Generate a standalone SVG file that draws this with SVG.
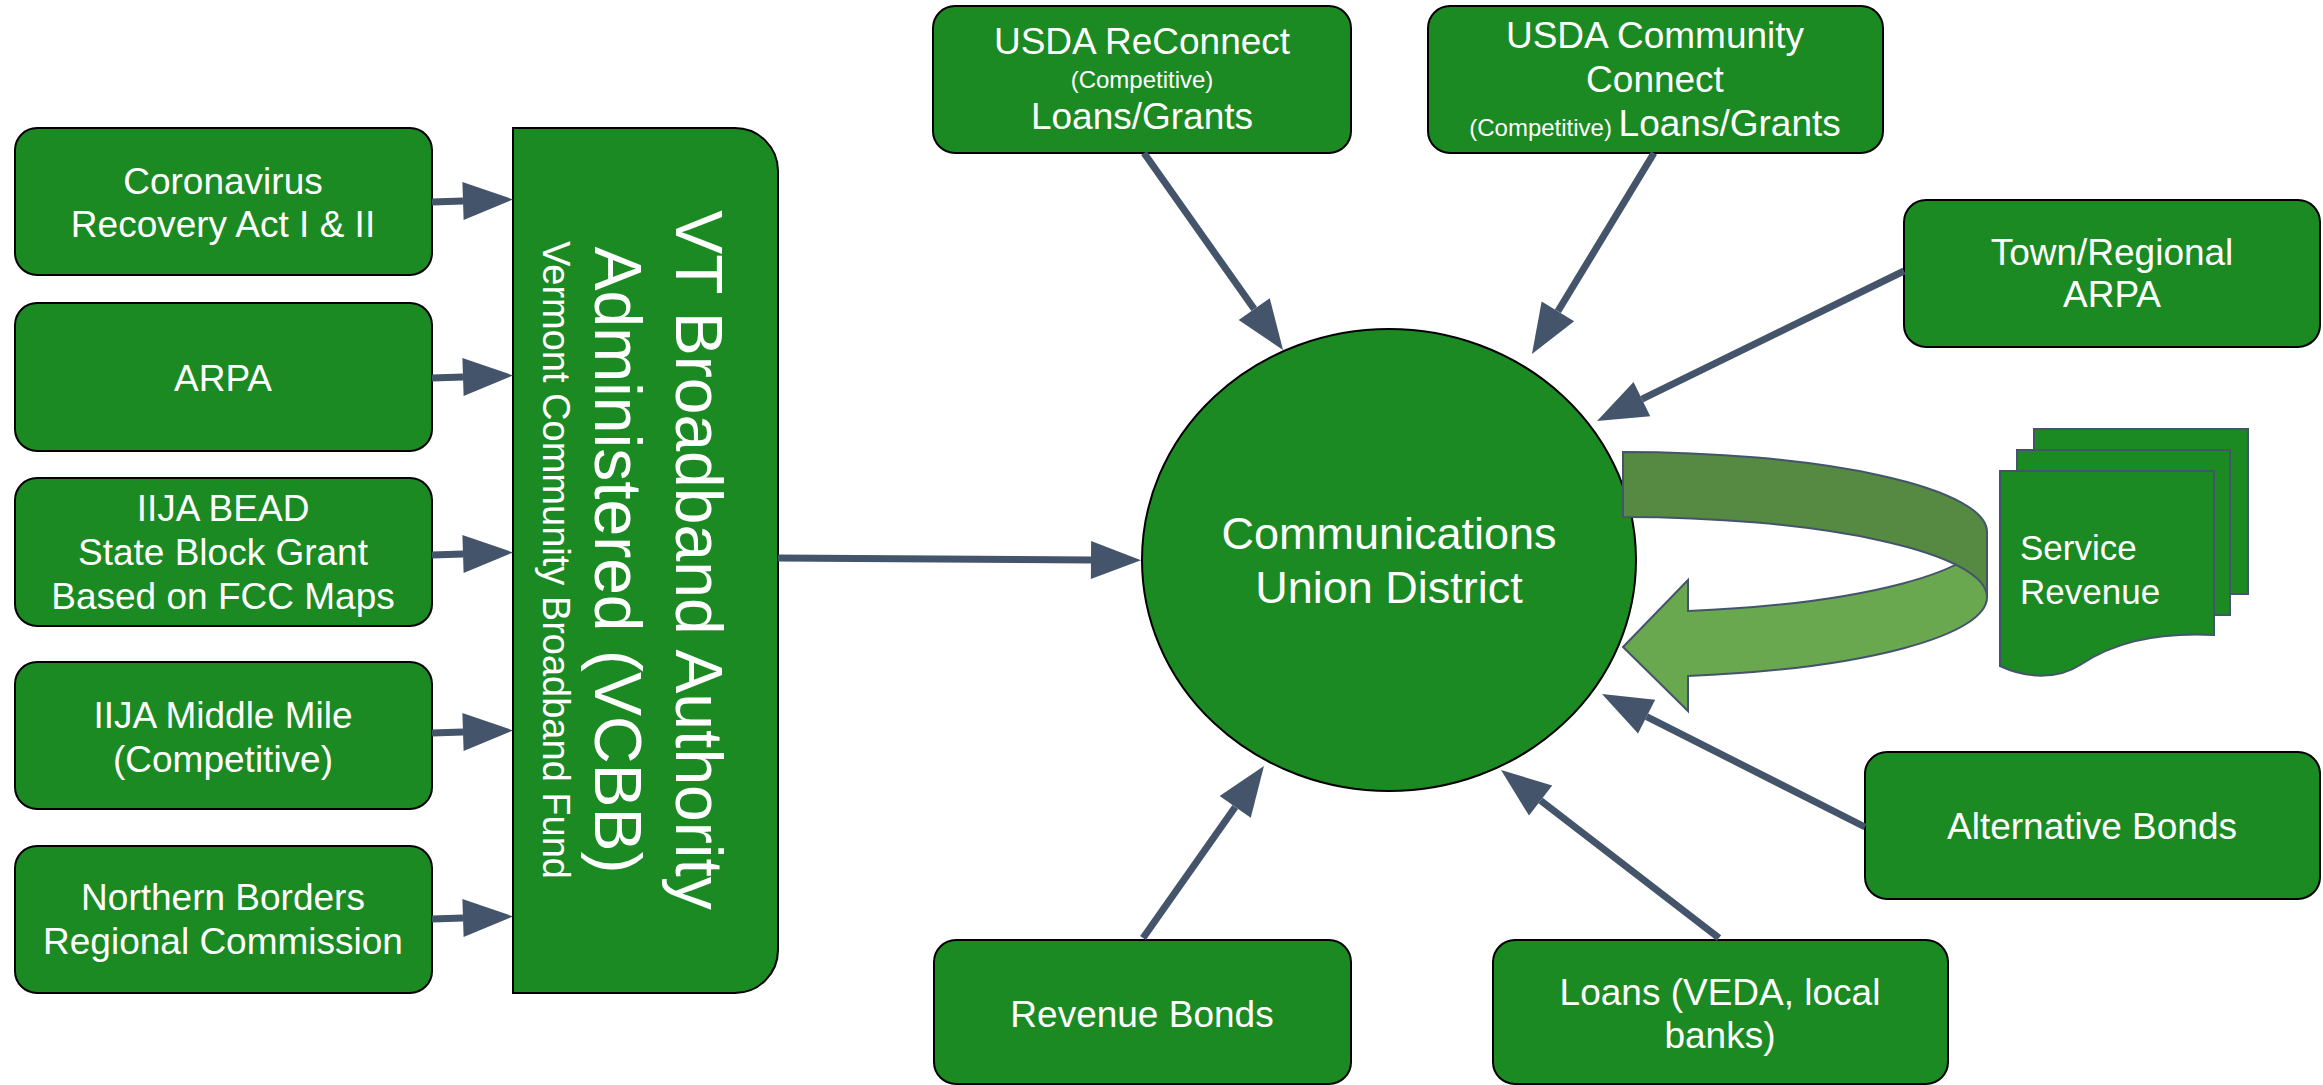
<svg xmlns="http://www.w3.org/2000/svg" width="2323" height="1085" viewBox="0 0 2323 1085">
<style>
.box{fill:#1b8a23;stroke:#000;stroke-width:2}
.t{fill:#fff;font-family:"Liberation Sans",Arial,sans-serif;font-size:37px;text-anchor:middle}
.s{font-size:24px}
.c{fill:none;stroke:#44546a;stroke-width:7;marker-end:url(#ah)}
.pg{fill:#1b8a23;stroke:#44546a;stroke-width:2}
</style>
<defs>
<marker id="ah" markerUnits="userSpaceOnUse" markerWidth="52" markerHeight="40" refX="0" refY="19" orient="auto" overflow="visible">
<path d="M0,0 L50,19 L0,38 Z" fill="#44546a"/>
</marker>
</defs>
<rect width="2323" height="1085" fill="#fff"/>

<g id="coronavirus"><rect class="box" x="15" y="128" width="417" height="147" rx="22"/>
<text class="t" x="223" y="194">Coronavirus</text><text class="t" x="223" y="237">Recovery Act I &amp; II</text></g>
<g id="arpa"><rect class="box" x="15" y="303" width="417" height="148" rx="22"/>
<text class="t" x="223" y="391">ARPA</text></g>
<g id="iija-bead"><rect class="box" x="15" y="478" width="417" height="148" rx="22"/>
<text class="t" x="223" y="521">IIJA BEAD</text><text class="t" x="223" y="565">State Block Grant</text><text class="t" x="223" y="609">Based on FCC Maps</text></g>
<g id="iija-middle"><rect class="box" x="15" y="662" width="417" height="147" rx="22"/>
<text class="t" x="223" y="728">IIJA Middle Mile</text><text class="t" x="223" y="772">(Competitive)</text></g>
<g id="northern"><rect class="box" x="15" y="846" width="417" height="147" rx="22"/>
<text class="t" x="223" y="910">Northern Borders</text><text class="t" x="223" y="954">Regional Commission</text></g>

<g id="vcbb"><path class="box" d="M513,128 H735 A43,43 0 0 1 778,171 V950 A43,43 0 0 1 735,993 H513 Z"/>
<text class="t" style="font-size:66px" transform="translate(676,560) rotate(90)">VT Broadband Authority</text>
<text class="t" style="font-size:66px" transform="translate(595,560) rotate(90)">Administered (VCBB)</text>
<text class="t" style="font-size:38px" transform="translate(543,560) rotate(90)">Vermont Community Broadband Fund</text></g>

<g id="reconnect"><rect class="box" x="933" y="6" width="418" height="147" rx="22"/>
<text class="t" x="1142" y="54">USDA ReConnect</text><text class="t s" x="1142" y="88">(Competitive)</text><text class="t" x="1142" y="129">Loans/Grants</text></g>
<g id="community"><rect class="box" x="1428" y="6" width="455" height="147" rx="22"/>
<text class="t" x="1655" y="48">USDA Community</text><text class="t" x="1655" y="92">Connect</text><text class="t" x="1655" y="136"><tspan class="s">(Competitive) </tspan>Loans/Grants</text></g>
<g id="town"><rect class="box" x="1904" y="200" width="416" height="147" rx="22"/>
<text class="t" x="2112" y="265">Town/Regional</text><text class="t" x="2112" y="307">ARPA</text></g>
<g id="alt-bonds"><rect class="box" x="1865" y="752" width="455" height="147" rx="22"/>
<text class="t" x="2092" y="839">Alternative Bonds</text></g>
<g id="revenue-bonds"><rect class="box" x="934" y="940" width="417" height="144" rx="22"/>
<text class="t" x="1142" y="1027">Revenue Bonds</text></g>
<g id="loans"><rect class="box" x="1493" y="940" width="455" height="144" rx="22"/>
<text class="t" x="1720" y="1005">Loans (VEDA, local</text><text class="t" x="1720" y="1048">banks)</text></g>

<g id="cud"><ellipse class="box" cx="1389" cy="560" rx="247" ry="231"/>
<text class="t" style="font-size:45px" x="1389" y="549">Communications</text><text class="t" style="font-size:45px" x="1389" y="603">Union District</text></g>

<g id="revenue-loop">
<path d="M1688,611 A364,80 0 0 0 1987,532 L1987,597 A364,80 0 0 1 1688,676 L1688,711 L1623,647 L1688,580 Z" fill="#6aa84f" stroke="#44546a" stroke-width="2"/>
<path d="M1623,452 A364,80 0 0 1 1987,532 L1987,597 A364,80 0 0 0 1623,517 Z" fill="#568a42" stroke="#44546a" stroke-width="2"/>
</g>

<g id="service-revenue">
<rect class="pg" x="2034" y="429" width="214" height="165"/>
<rect class="pg" x="2017" y="450" width="213" height="165"/>
<path class="pg" d="M2000,471 H2214 V635 C2150,632 2110,645 2080,665 C2060,678 2030,680 2000,666 Z"/>
<text class="t" style="font-size:35px;text-anchor:start" x="2020" y="560">Service</text>
<text class="t" style="font-size:35px;text-anchor:start" x="2020" y="604">Revenue</text>
</g>

<g id="connectors">
<path class="c" d="M432,202 L463,201"/>
<path class="c" d="M432,378 L463,377"/>
<path class="c" d="M432,555 L463,554"/>
<path class="c" d="M432,733 L463,732"/>
<path class="c" d="M432,919 L463,918"/>
<path class="c" d="M778,558 L1091,560"/>
<path class="c" d="M1144,153 L1254.2,309.1"/>
<path class="c" d="M1654,153 L1557.9,311.3"/>
<path class="c" d="M1904,271 L1641.9,399.1"/>
<path class="c" d="M1865,827 L1646.6,716.6"/>
<path class="c" d="M1719,938 L1540.6,800.5"/>
<path class="c" d="M1143,938 L1235.2,806.9"/>
</g>
</svg>
